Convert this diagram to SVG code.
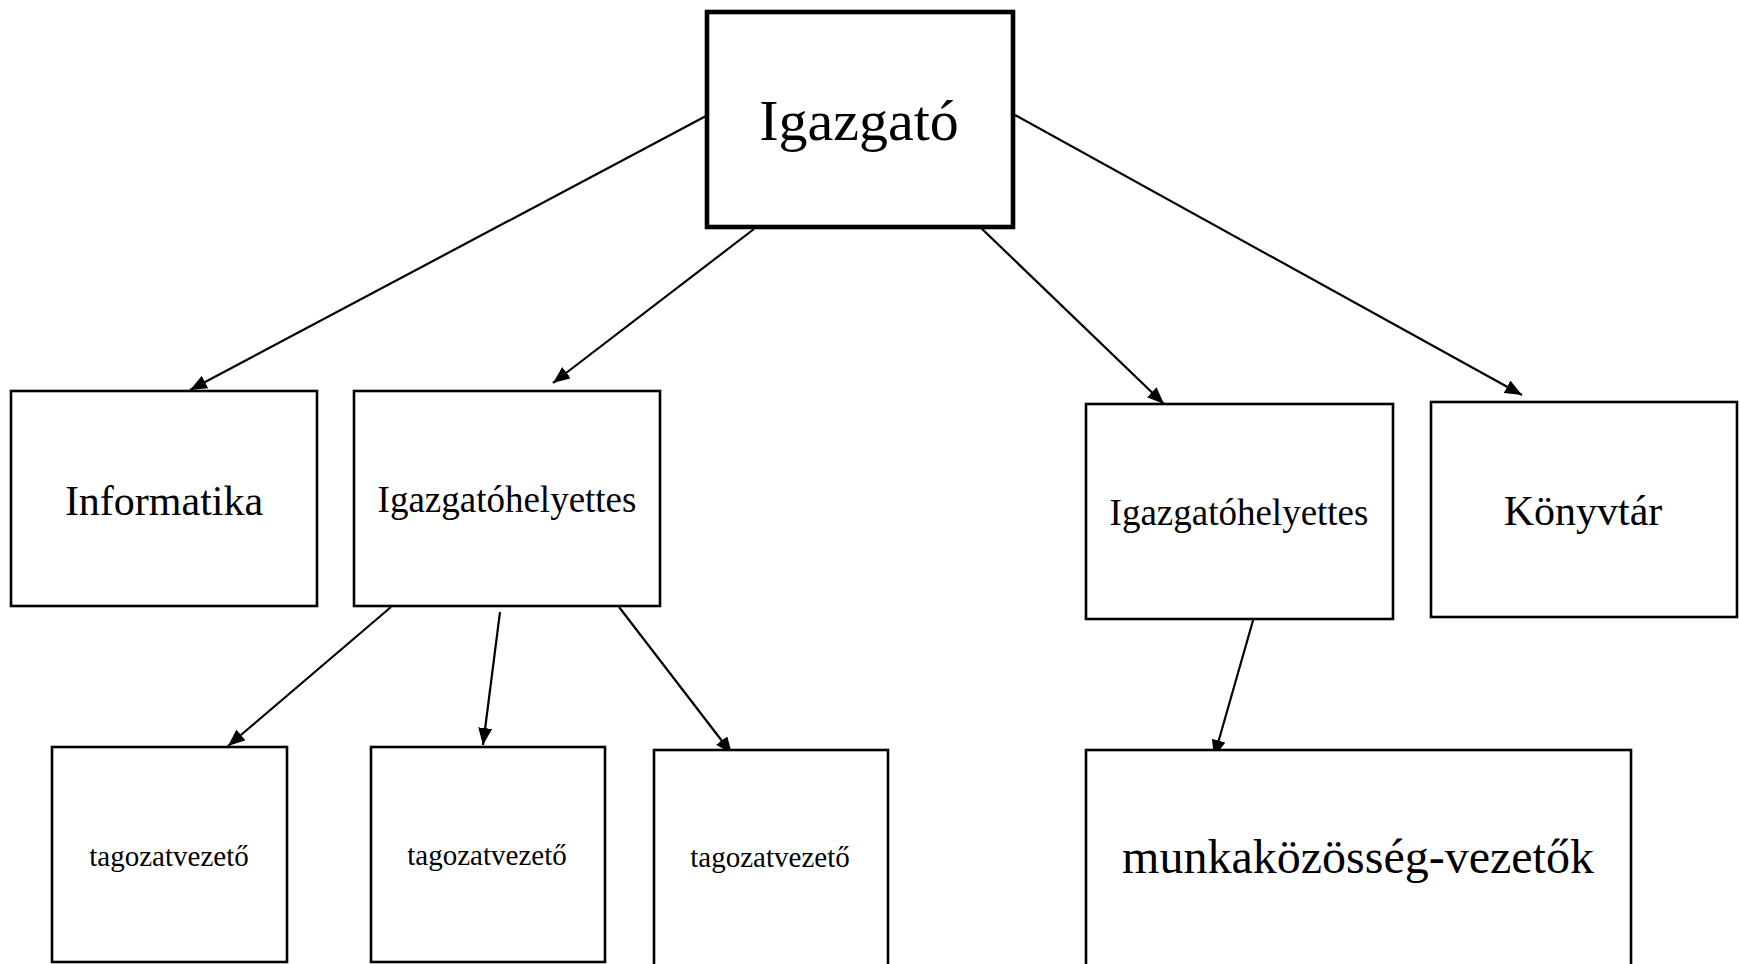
<svg xmlns="http://www.w3.org/2000/svg" width="1740" height="964" viewBox="0 0 1740 964">
<defs>
<style>
.box{fill:#fff;stroke:#000;stroke-width:2.6}
.main{fill:#fff;stroke:#000;stroke-width:4.6}
.t{font-family:"Liberation Serif","Times New Roman",serif;fill:#000;text-anchor:middle}
.c{stroke:#000;stroke-width:2.2;fill:none;marker-end:url(#ah)}
</style>
<marker id="ah" markerUnits="userSpaceOnUse" markerWidth="18" markerHeight="14" refX="17" refY="7" orient="auto">
<path d="M0,0 L17,7 L0,14 z" fill="#000"/>
</marker>
</defs>
<rect width="1740" height="964" fill="#fff"/>
<g id="connectors">
<line class="c" x1="706" y1="116" x2="190" y2="390"/>
<line class="c" x1="754" y1="229" x2="553" y2="383"/>
<line class="c" x1="979" y1="226" x2="1164" y2="404"/>
<line class="c" x1="1015" y1="115" x2="1522" y2="395"/>
<line class="c" x1="391" y1="607" x2="228" y2="746"/>
<line class="c" x1="500" y1="612" x2="483" y2="745"/>
<line class="c" x1="619" y1="607" x2="732" y2="754"/>
<line class="c" x1="1254" y1="617" x2="1214" y2="757"/>
</g>
<g id="igazgato">
<rect class="main" x="707" y="12" width="306" height="215"/>
<text class="t" x="859" y="140" font-size="58">Igazgató</text>
</g>
<g id="informatika">
<rect class="box" x="11" y="391" width="306" height="215"/>
<text class="t" x="164" y="515" font-size="42">Informatika</text>
</g>
<g id="igazgatohelyettes1">
<rect class="box" x="354" y="391" width="306" height="215"/>
<text class="t" x="507" y="512" font-size="37">Igazgatóhelyettes</text>
</g>
<g id="igazgatohelyettes2">
<rect class="box" x="1086" y="404" width="307" height="215"/>
<text class="t" x="1239" y="525" font-size="37">Igazgatóhelyettes</text>
</g>
<g id="konyvtar">
<rect class="box" x="1431" y="402" width="306" height="215"/>
<text class="t" x="1583" y="525" font-size="42">Könyvtár</text>
</g>
<g id="tagozatvezeto1">
<rect class="box" x="52" y="747" width="235" height="215"/>
<text class="t" x="169" y="866" font-size="29">tagozatvezető</text>
</g>
<g id="tagozatvezeto2">
<rect class="box" x="371" y="747" width="234" height="215"/>
<text class="t" x="487" y="865" font-size="29">tagozatvezető</text>
</g>
<g id="tagozatvezeto3">
<rect class="box" x="654" y="750" width="234" height="216"/>
<text class="t" x="770" y="867" font-size="29">tagozatvezető</text>
</g>
<g id="munkakozosseg">
<rect class="box" x="1086" y="750" width="545" height="216"/>
<text class="t" x="1358" y="873" font-size="48">munkaközösség-vezetők</text>
</g>
</svg>
